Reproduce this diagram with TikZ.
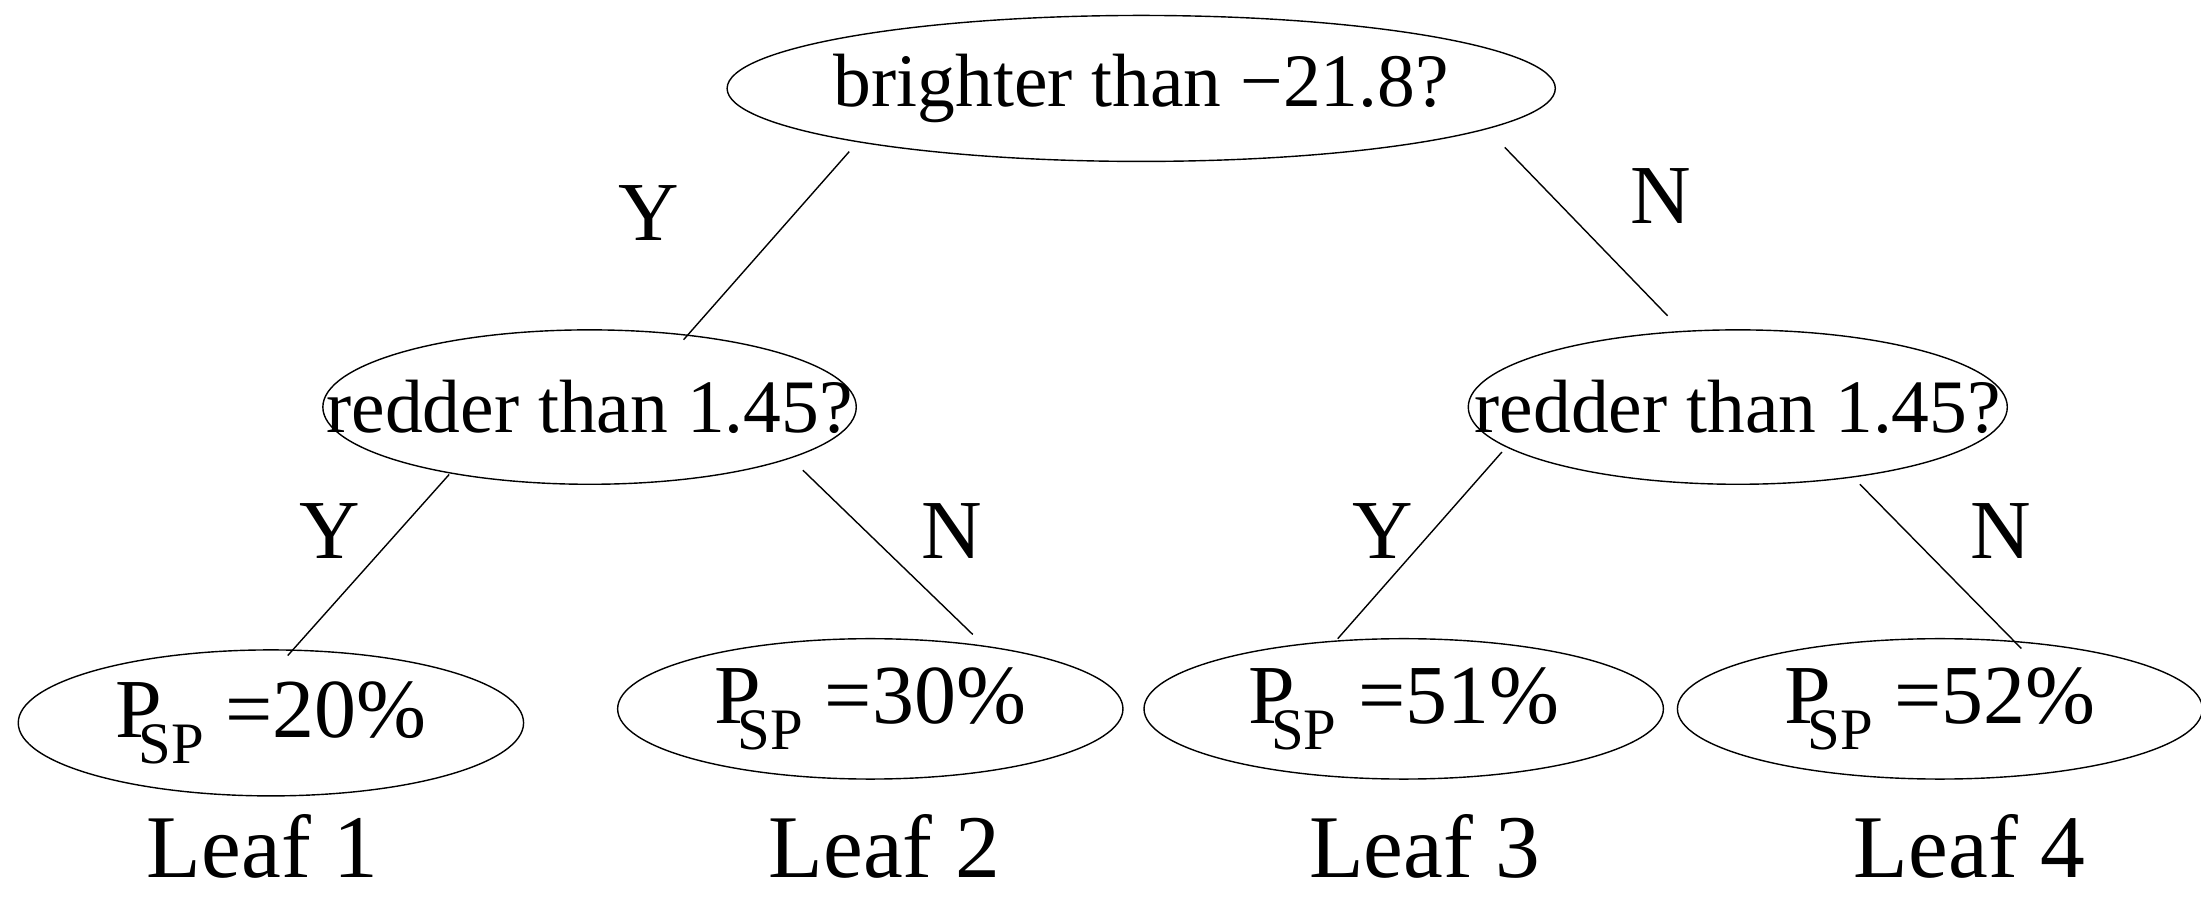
\documentclass[tikz,border=0pt]{standalone}
\usepackage{fontspec}
\setmainfont{Liberation Serif}
\usetikzlibrary{shapes.geometric}
\begin{document}
\begin{tikzpicture}[x=1bp,y=-1bp,
  el/.style={ellipse,draw,line width=1bp,inner sep=-150bp},
  ln/.style={line width=1bp},
  q/.style={font=\fontsize{54}{58}\selectfont},
  lab/.style={font=\fontsize{60}{64}\selectfont},
  leaf/.style={font=\fontsize{60}{64}\selectfont},
  lf/.style={font=\fontsize{64}{68}\selectfont}]
\useasboundingbox (0,0) rectangle (1568,641);
\node[el,minimum width=590bp,minimum height=104bp,q] (top) at (813,63) {brighter than −21.8?};
\node[el,minimum width=380bp,minimum height=110bp,q] (ml) at (420,290) {redder than 1.45?};
\node[el,minimum width=384bp,minimum height=110bp,q] (mr) at (1238,290) {redder than 1.45?};
\node[el,minimum width=360bp,minimum height=104bp,leaf] (l1) at (193,515) {P\textsubscript{\kern-0.4em SP} =20\%};
\node[el,minimum width=360bp,minimum height=100bp,leaf] (l2) at (620,505) {P\textsubscript{\kern-0.4em SP} =30\%};
\node[el,minimum width=370bp,minimum height=100bp,leaf] (l3) at (1000,505) {P\textsubscript{\kern-0.4em SP} =51\%};
\node[el,minimum width=374bp,minimum height=100bp,leaf] (l4) at (1382,505) {P\textsubscript{\kern-0.4em SP} =52\%};
\coordinate (a1) at (605,108); \coordinate (a2) at (487,242);
\coordinate (b1) at (1072,105); \coordinate (b2) at (1188,225);
\coordinate (c1) at (320,338); \coordinate (c2) at (205,467);
\coordinate (d1) at (572,335); \coordinate (d2) at (693,452);
\coordinate (e1) at (1070,322); \coordinate (e2) at (953,455);
\coordinate (f1) at (1325,345); \coordinate (f2) at (1440,462);
\draw[ln] (a1) -- (a2); \draw[ln] (b1) -- (b2);
\draw[ln] (c1) -- (c2); \draw[ln] (d1) -- (d2);
\draw[ln] (e1) -- (e2); \draw[ln] (f1) -- (f2);
\node[lab] (y1) at (462,152) {Y};
\node[lab] (n1) at (1183,140) {N};
\node[lab] (y2) at (235,378) {Y};
\node[lab] (n2) at (678,378) {N};
\node[lab] (y3) at (985,378) {Y};
\node[lab] (n3) at (1425,378) {N};
\node[lf] (t1) at (187,603) {Leaf 1};
\node[lf] (t2) at (630,603) {Leaf 2};
\node[lf] (t3) at (1015,603) {Leaf 3};
\node[lf] (t4) at (1403,603) {Leaf 4};
\end{tikzpicture}
\end{document}
